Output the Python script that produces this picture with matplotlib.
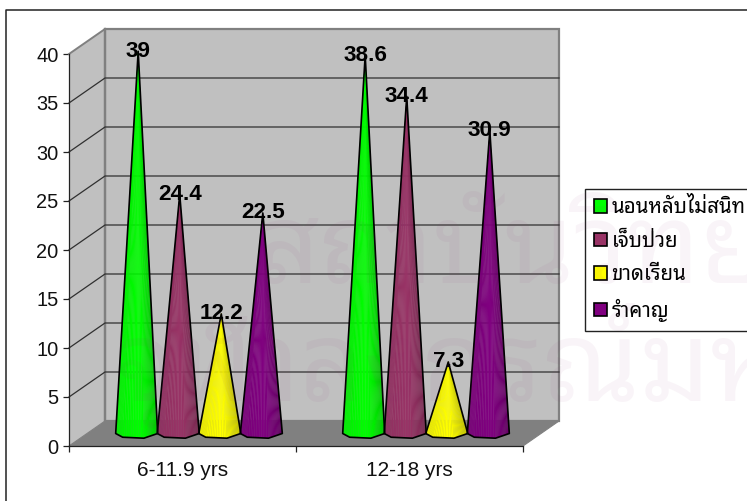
import matplotlib
matplotlib.use('Agg')
import matplotlib.pyplot as plt
import numpy as np
from matplotlib.patches import Patch, Polygon

plt.rcParams['font.family'] = ['Liberation Sans', 'DejaVu Sans']
thai_font = ['Noto Sans Thai Looped', 'Noto Sans Thai', 'DejaVu Sans']

groups = ['6-11.9 yrs', '12-18 yrs']
names = ['นอนหลับไม่สนิท', 'เจ็บป่วย', 'ขาดเรียน', 'รำคาญ']
colors = ['#00ff00', '#993366', '#ffff00', '#800080']
insomnia = [39, 38.6]
sick = [24.4, 34.4]
absent = [12.2, 7.3]
annoyed = [22.5, 30.9]
series = [insomnia, sick, absent, annoyed]
yticks = [0, 5, 10, 15, 20, 25, 30, 35, 40]

W, H = 747, 501
# depth of the fake 3d box, in data units
depth_x = 36 / 227
depth_y = 25 / 9.8
cone_w = 0.183
cone_r = 21 / 227
cone_rb = 5 / 9.8

fig = plt.figure(figsize=(W / 100, H / 100), dpi=100, facecolor='white')
ax = fig.add_axes([69 / W, 1 - 446 / H, 454 / W, 392 / H])
ax.set_xlim(0, 2)
ax.set_ylim(0, 40)
ax.patch.set_visible(False)
for s in ['top', 'right']:
    ax.spines[s].set_visible(False)
for s in ['left', 'bottom']:
    ax.spines[s].set_linewidth(0.9)
    ax.spines[s].set_color('#222222')

# outer frame, only left and top are in the picture
fig.add_artist(plt.Line2D([6 / W, 6 / W, 1], [0, 1 - 10 / H, 1 - 10 / H], color='#222222', lw=1.1))

# walls and floor
top = yticks[-1]
ax.add_patch(Polygon([[0, 0], [depth_x, depth_y], [depth_x, top + depth_y], [0, top]], fc='#c0c0c0', ec='none', zorder=1, clip_on=False))
ax.add_patch(Polygon([[depth_x, depth_y], [2 + depth_x, depth_y], [2 + depth_x, top + depth_y], [depth_x, top + depth_y]], fc='#c0c0c0', ec='#808080', lw=1.6, zorder=1, clip_on=False))
ax.add_patch(Polygon([[0, 0], [2, 0], [2 + depth_x, depth_y], [depth_x, depth_y]], fc='#808080', ec='#808080', lw=0.8, zorder=1.5, clip_on=False))
ax.plot([0, depth_x], [top, top + depth_y], color='#808080', lw=1.4, zorder=2, clip_on=False)
ax.plot([depth_x, depth_x], [depth_y, top + depth_y], color='#808080', lw=1.6, zorder=2, clip_on=False)
for v in yticks[1:-1]:
    ax.plot([0, depth_x, 2 + depth_x], [v, v + depth_y, v + depth_y], color='#303030', lw=0.9, zorder=2, clip_on=False)


def draw_cone(xc, value, color):
    # base is a rough polygon, not a true ellipse, and sits a bit left of the tip
    angles = np.radians([180, 228, 290, 360])
    ring_x = xc - 1.5 / 227 + cone_r * np.cos(angles)
    ring_y = depth_y / 2 + cone_rb * np.sin(angles)
    apex = (xc, depth_y / 2 + value)
    pos = np.linspace(0, 3, 37)
    xs = np.interp(pos, range(4), ring_x)
    ys = np.interp(pos, range(4), ring_y)
    rgb = np.array(matplotlib.colors.to_rgb(color))
    for i in range(len(pos) - 1):
        u = ((xs[i] + xs[i + 1]) / 2 - xc) / cone_r
        shade = 1 - 0.25 * max(u, 0) ** 1.5 - 0.06 * max(-u, 0)
        ax.add_patch(Polygon([apex, (xs[i], ys[i]), (xs[i + 1], ys[i + 1])], fc=rgb * shade, ec=rgb * shade, lw=0.2, zorder=3, clip_on=False))
    outline = [apex] + list(zip(ring_x, ring_y))
    ax.add_patch(Polygon(outline, fc='none', ec='black', lw=1.2, joinstyle='round', zorder=3.5, clip_on=False))
    ax.text(xc, apex[1], str(value), ha='center', va='center', fontsize=16.2, fontweight='bold', color='black', zorder=6, clip_on=False)


for g in range(len(groups)):
    for i, vals in enumerate(series):
        xc = g + 0.5 + depth_x / 2 + (i - 1.5) * cone_w
        draw_cone(xc, vals[g], colors[i])

ax.set_yticks(yticks)
ax.set_xticks([0, 1, 2])
ax.set_xticklabels([])
ax.set_xticks([0.5, 1.5], labels=groups, minor=True)
ax.tick_params(axis='x', which='minor', length=0, labelsize=15, pad=11, labelcolor='#111111')
ax.tick_params(axis='x', which='major', length=4.5, width=0.9, color='#222222')
ax.tick_params(axis='y', length=4.5, width=0.9, color='#222222', labelsize=14.4, labelcolor='#111111', pad=3)

handles = [Patch(facecolor=c, edgecolor='black', linewidth=1.2) for c in colors]
leg = fig.legend(handles, names, loc='upper left', bbox_to_anchor=(585 / W, 1 - 189 / H), borderaxespad=0,
                 prop={'family': thai_font, 'size': 14.7}, frameon=True, fancybox=False, framealpha=1,
                 edgecolor='#222222', handlelength=0.65, handleheight=0.65, handletextpad=0.2,
                 labelspacing=0.66, borderpad=0.45)
leg.get_frame().set_linewidth(1.0)

# faint watermark of the scanned thesis page
for txt, x, y, size in [('สถาบันวิทยบริการ', 255, 283, 80), ('จุฬาลงกรณ์มหาวิทยาลัย', 115, 401, 80)]:
    fig.text(x / W, 1 - y / H, txt, family=thai_font, fontsize=size, color='#903078', alpha=0.05, zorder=10)

fig.savefig('out.png', dpi=100)
